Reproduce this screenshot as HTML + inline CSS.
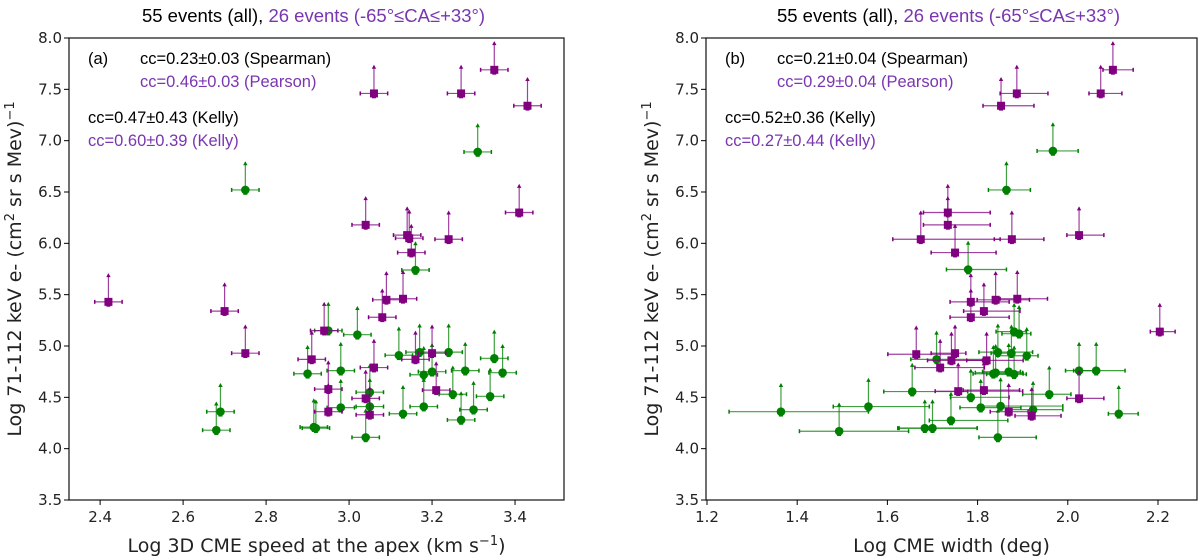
<!DOCTYPE html>
<html><head><meta charset="utf-8"><style>
body{margin:0;background:#fff;}
svg{display:block;font-family:"Liberation Sans","DejaVu Sans",sans-serif;}
.dv{font-family:"DejaVu Sans","Liberation Sans",sans-serif;}
</style></head><body>
<svg id="fig" width="1200" height="557" viewBox="0 0 1200 557" xmlns="http://www.w3.org/2000/svg"></svg>
<script>
// Panel (a) data: Log 3D CME speed vs Log electron intensity
const aPurpleX = [2.42,2.70,2.75,3.06,3.27,3.35,3.43,3.04,3.41,3.14,3.145,3.15,3.24,3.09,3.13,3.08,2.94,2.91,3.06,2.95,3.04,2.95,3.05,3.16,3.20,3.21];
const aPurpleY = [5.43,5.34,4.93,7.46,7.46,7.69,7.34,6.18,6.30,6.08,6.05,5.91,6.04,5.45,5.46,5.28,5.15,4.87,4.79,4.58,4.49,4.36,4.33,4.87,4.93,4.57];
const aGreenX = [2.75,3.31,3.16,2.69,2.68,2.90,2.92,2.915,2.98,2.98,2.95,3.02,3.05,3.05,3.04,3.12,3.17,3.18,3.18,3.20,3.24,3.25,3.28,3.27,3.30,3.34,3.35,3.37,3.13];
const aGreenY = [6.52,6.89,5.74,4.36,4.18,4.73,4.20,4.21,4.76,4.40,5.15,5.11,4.55,4.41,4.11,4.91,4.94,4.72,4.41,4.75,4.94,4.53,4.76,4.28,4.38,4.51,4.88,4.74,4.34];
const aXErr = 0.033;
// Panel (b) data: Log CME width vs Log electron intensity
const bPurpleX = [1.734,1.734,1.674,1.750,1.876,2.025,1.785,1.840,1.888,1.814,1.785,2.204,1.664,1.750,1.742,1.820,1.717,1.757,1.814,2.025,1.869,1.920,1.852,1.887,2.073,2.100];
const bPurpleY = [6.30,6.18,6.04,5.91,6.04,6.08,5.43,5.45,5.46,5.34,5.28,5.14,4.92,4.93,4.86,4.86,4.79,4.56,4.57,4.49,4.36,4.32,7.34,7.46,7.46,7.69];
const bPurpleXLo = [1.680,1.680,1.612,1.697,1.837,1.998,1.739,1.799,1.850,1.769,1.739,2.183,1.601,1.697,1.689,1.776,1.661,1.706,1.768,1.998,1.828,1.883,1.812,1.850,2.047,2.078];
const bPurpleXHi = [1.828,1.828,1.850,1.841,1.947,2.080,1.870,1.915,1.955,1.894,1.870,2.238,1.757,1.774,1.811,1.901,1.815,1.900,1.893,2.080,1.912,1.985,1.925,1.956,2.120,2.145];
const bGreenX = [1.364,1.493,1.558,1.655,1.683,1.700,1.709,1.741,1.779,1.785,1.807,1.845,1.851,1.835,1.845,1.869,1.881,1.875,1.881,1.892,1.909,1.923,1.864,1.967,1.959,2.025,2.063,2.113,1.840];
const bGreenY = [4.36,4.17,4.41,4.556,4.20,4.20,4.87,4.275,5.745,4.50,4.40,4.11,4.415,4.73,4.94,4.75,4.725,4.93,5.14,5.12,4.905,4.38,6.52,6.90,4.53,4.76,4.76,4.34,4.74];
const bGreenXLo = [1.249,1.405,1.480,1.592,1.623,1.626,1.652,1.693,1.731,1.740,1.761,1.803,1.811,1.790,1.803,1.811,1.820,1.830,1.841,1.854,1.845,1.869,1.824,1.932,1.900,1.995,2.013,2.090,1.795];
const bGreenXHi = [1.558,1.647,1.693,1.778,1.799,1.799,1.822,1.867,1.864,1.870,1.896,1.930,1.989,1.901,1.922,1.895,1.908,1.867,1.908,1.918,1.934,1.989,1.917,2.023,2.007,2.056,2.127,2.156,1.900];
const upArrow = 0.27;
const yTicks = [3.5,4.0,4.5,5.0,5.5,6.0,6.5,7.0,7.5,8.0];
const aXTicks = [2.4,2.6,2.8,3.0,3.2,3.4];
const bXTicks = [1.2,1.4,1.6,1.8,2.0,2.2];

const NS='http://www.w3.org/2000/svg';
const svg=document.getElementById('fig');
function mk(tag,attrs,parent){const e=document.createElementNS(NS,tag);for(const k in attrs)e.setAttribute(k,attrs[k]);(parent||svg).appendChild(e);return e;}
const PUR='#800080', GRN='#008000', TPUR='#7a35b0';

function panel(id,left,right,xmin,xmax,xTicks,xlabel,tag,cc){
  const top=38,bottom=500,ymin=3.5,ymax=8.0;
  const sx=v=>left+(v-xmin)/(xmax-xmin)*(right-left);
  const sy=v=>bottom-(v-ymin)/(ymax-ymin)*(bottom-top);
  const g=mk('g',{});
  
  
  const cx=(left+right)/2;
  const t=mk('text',{x:cx-3,y:22,'text-anchor':'middle','font-size':18.5,fill:'#000'},g);
  
  
  const s1=mk('tspan',{},t);s1.textContent='55 events (all), ';
  const s2=mk('tspan',{fill:TPUR},t);s2.textContent='26 events (-65°≤CA≤+33°)';
  const fr=mk('rect',{x:left,y:top,width:right-left,height:bottom-top,fill:'none',stroke:'#222','stroke-width':1.3},g);
  
  
  yTicks.forEach(v=>{
    mk('line',{x1:left-5,x2:left,y1:sy(v),y2:sy(v),stroke:'#000'},g);
    const tl=mk('text',{x:left-7,y:sy(v)+5,'text-anchor':'end','font-size':15,class:'dv',fill:'#222'},g);
    tl.textContent=v.toFixed(1);
    
    
  });
  xTicks.forEach(v=>{
    mk('line',{x1:sx(v),x2:sx(v),y1:bottom,y2:bottom+5,stroke:'#000'},g);
    const tl=mk('text',{x:sx(v),y:bottom+22,'text-anchor':'middle','font-size':15,class:'dv',fill:'#222'},g);
    tl.textContent=v.toFixed(1);
    
    
  });
  const xl=mk('text',{x:cx,y:552,'text-anchor':'middle','font-size':19,class:'dv',fill:'#222'},g);
  
  
  xl.innerHTML=xlabel;
  const yx=left-48, yy=(top+bottom)/2;
  const yl=mk('text',{x:yx,y:yy,'text-anchor':'middle','font-size':19,class:'dv',fill:'#222',transform:`rotate(-90 ${yx} ${yy})`},g);
  
  
  yl.innerHTML='Log 71-112 keV e- (cm<tspan dy="-7" font-size="13">2</tspan><tspan dy="7"> sr s Mev)</tspan><tspan dy="-7" font-size="13">−1</tspan>';
  const ann=[[tag,left+19,64,'#000'],[cc[0],left+71,64,'#000'],[cc[1],left+71,87,TPUR],[cc[2],left+19,123,'#000'],[cc[3],left+19,146,TPUR]];
  ann.forEach((a,i)=>{const e=mk('text',{x:a[1],y:a[2],'font-size':16.5,fill:a[3]},g);e.textContent=a[0];
    
    });
  return {g,sx,sy};
}

function drawPoints(P,xs,ys,xlo,xhi,color,shape,name){
  const {g,sx,sy}=P;
  xs.forEach((xv,i)=>{
    const yv=ys[i];
    const pg=mk('g',{},g);
    
    
    const x0=sx(xlo[i]),x1=sx(xhi[i]),px=sx(xv),py=sy(yv),pu=sy(yv+upArrow),pd=sy(yv-0.04);
    mk('line',{x1:x0,x2:x1,y1:py,y2:py,stroke:color,'stroke-width':1.2,'stroke-opacity':0.75},pg);
    mk('line',{x1:x0,x2:x0,y1:py-2,y2:py+2,stroke:color,'stroke-width':1.5},pg);
    mk('line',{x1:x1,x2:x1,y1:py-2,y2:py+2,stroke:color,'stroke-width':1.5},pg);
    mk('line',{x1:px,x2:px,y1:pd,y2:pu,stroke:color,'stroke-width':1.2,'stroke-opacity':0.75},pg);
    mk('line',{x1:px-2,x2:px+2,y1:pd,y2:pd,stroke:color,'stroke-width':1.5},pg);
    mk('polygon',{points:`${px-2.2},${pu+3} ${px+2.2},${pu+3} ${px},${pu-1}`,fill:color},pg);
    if(shape==='sq') mk('rect',{x:px-4,y:py-4,width:8,height:8,fill:color},pg);
    else mk('circle',{cx:px,cy:py,r:4.3,fill:color},pg);
  });
}

const A=panel('a',69,564,2.325,3.518,aXTicks,'Log 3D CME speed at the apex (km s<tspan dy="-7" font-size="13">−1</tspan><tspan dy="7">)</tspan>','(a)',
  ['cc=0.23±0.03 (Spearman)','cc=0.46±0.03 (Pearson)','cc=0.47±0.43 (Kelly)','cc=0.60±0.39 (Kelly)']);
drawPoints(A,aGreenX,aGreenY,aGreenX.map(v=>v-aXErr),aGreenX.map(v=>v+aXErr),GRN,'c','green-event-point');
drawPoints(A,aPurpleX,aPurpleY,aPurpleX.map(v=>v-aXErr),aPurpleX.map(v=>v+aXErr),PUR,'sq','purple-event-point');

const B=panel('b',706,1197,1.1978,2.2865,bXTicks,'Log CME width (deg)','(b)',
  ['cc=0.21±0.04 (Spearman)','cc=0.29±0.04 (Pearson)','cc=0.52±0.36 (Kelly)','cc=0.27±0.44 (Kelly)']);
drawPoints(B,bGreenX,bGreenY,bGreenXLo,bGreenXHi,GRN,'c','green-event-point');
drawPoints(B,bPurpleX,bPurpleY,bPurpleXLo,bPurpleXHi,PUR,'sq','purple-event-point');
</script>
</body></html>
